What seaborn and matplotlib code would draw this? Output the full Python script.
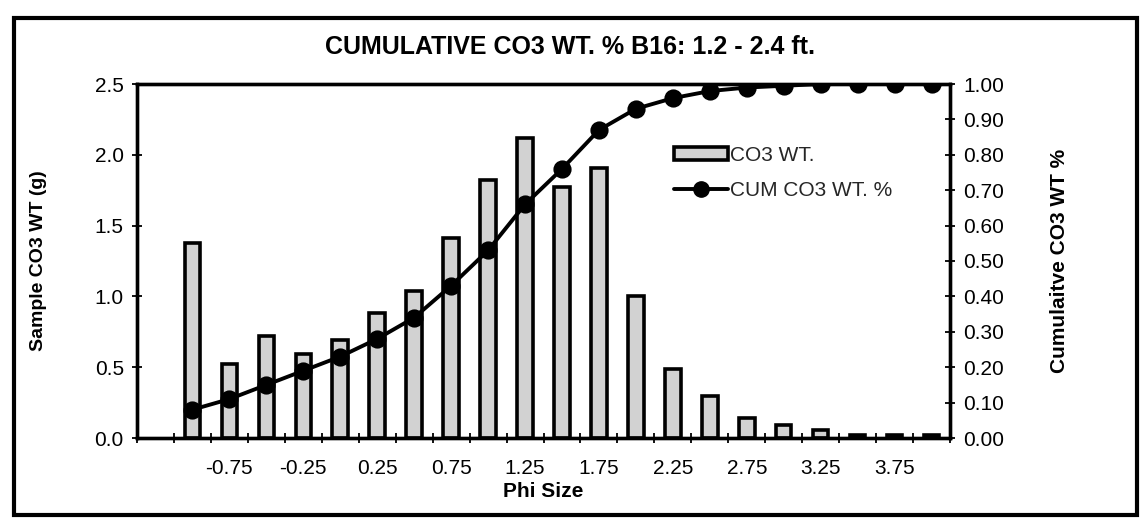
import matplotlib
matplotlib.use("Agg")
import matplotlib.pyplot as plt
import seaborn as sns
import pandas as pd
import numpy as np
from matplotlib.patches import Rectangle
from matplotlib.lines import Line2D
from matplotlib.ticker import FormatStrFormatter, MultipleLocator

# ---- data ----
categories = ["-1.25", "-1.00", "-0.75", "-0.50", "-0.25", "0.00", "0.25", "0.50",
              "0.75", "1.00", "1.25", "1.50", "1.75", "2.00", "2.25", "2.50",
              "2.75", "3.00", "3.25", "3.50", "3.75", "4.00"]
phi_sizes = ["-1.00", "-0.75", "-0.50", "-0.25", "0.00", "0.25", "0.50",
             "0.75", "1.00", "1.25", "1.50", "1.75", "2.00", "2.25", "2.50",
             "2.75", "3.00", "3.25", "3.50", "3.75", "4.00"]
co3_wt = [1.38, 0.52, 0.72, 0.59, 0.69, 0.88, 1.04, 1.41, 1.82, 2.12, 1.77,
          1.91, 1.00, 0.49, 0.30, 0.14, 0.09, 0.06, 0.02, 0.02, 0.02]
cum_co3 = [0.08, 0.11, 0.15, 0.19, 0.23, 0.28, 0.34, 0.43, 0.53, 0.66, 0.76,
           0.87, 0.93, 0.96, 0.98, 0.99, 0.995, 1.00, 1.00, 1.00, 1.00]
tick_labels = ["-0.75", "-0.25", "0.25", "0.75", "1.25", "1.75", "2.25",
               "2.75", "3.25", "3.75"]

df = pd.DataFrame({"phi": phi_sizes, "wt": co3_wt, "cum": cum_co3})

sns.set_theme(style="white")
plt.rcParams["font.family"] = ["Liberation Sans", "DejaVu Sans"]

W, H = 1144, 519
fig = plt.figure(figsize=(W / 100, H / 100), dpi=100)
L, R, T, B = 137, 950, 84, 438
ax = fig.add_axes([L / W, 1 - B / H, (R - L) / W, (B - T) / H])

sns.barplot(data=df, x="phi", y="wt", order=categories, ax=ax,
            color="#d2d2d2", saturation=1, edgecolor="black", linewidth=2.6,
            width=0.42, errorbar=None)

ax2 = ax.twinx()
sns.pointplot(data=df, x="phi", y="cum", order=categories, ax=ax2,
              color="black", markers="o", linestyles="-", errorbar=None,
              markersize=11, linewidth=2.8)

# x axis
ax.set_xlim(-0.5, len(categories) - 0.5)
label_pos = [categories.index(t) for t in tick_labels]
ax.set_xticks(label_pos)
ax.set_xticklabels(tick_labels)
ax.set_xticks(np.arange(-0.5, len(categories), 1.0), minor=True)
ax.tick_params(axis="x", which="major", length=0, pad=15, labelsize=15,
               colors="black")
ax.tick_params(axis="x", which="minor", length=7, width=1.3,
               direction="inout", bottom=True, color="black")
ax.set_xlabel("Phi Size", fontsize=15, fontweight="bold", color="black")
ax.xaxis.set_label_coords(0.5, -0.125)

# left y axis
ax.set_ylim(0, 2.5)
ax.yaxis.set_major_locator(MultipleLocator(0.5))
ax.yaxis.set_major_formatter(FormatStrFormatter("%.1f"))
ax.tick_params(axis="y", which="major", length=7, width=1.3, direction="inout",
               left=True, labelsize=15, colors="black", pad=6)
ax.set_ylabel("Sample CO3 WT (g)", fontsize=14, fontweight="bold",
              color="black")
ax.yaxis.set_label_coords(-0.111, 0.5)

# right y axis
ax2.set_ylim(0, 1.0)
ax2.yaxis.set_major_locator(MultipleLocator(0.1))
ax2.yaxis.set_major_formatter(FormatStrFormatter("%.2f"))
ax2.tick_params(axis="y", which="major", length=7, width=1.3,
                direction="inout", right=True, labelsize=15, colors="black",
                pad=6)
ax2.set_ylabel("Cumulaitve CO3 WT %", fontsize=15, fontweight="bold",
               color="black", rotation=90)
ax2.yaxis.set_label_coords(1.123, 0.5)

for a in (ax, ax2):
    for s in a.spines.values():
        s.set_visible(True)
        s.set_color("black")
        s.set_linewidth(2.4)
    a.grid(False)

# legend
handles = [Rectangle((0, 0), 1, 1, facecolor="#d2d2d2", edgecolor="black",
                     linewidth=2.6),
           Line2D([], [], color="black", marker="o", markersize=11,
                  linewidth=2.8)]
ax2.legend(handles, ["CO3 WT.", "CUM CO3 WT. %"], loc="upper left",
           bbox_to_anchor=(674 / W, 1 - 146 / H), bbox_transform=fig.transFigure,
           frameon=False, fontsize=15, handlelength=2.6, handleheight=0.55,
           handletextpad=0.1, labelspacing=0.75, borderpad=0, borderaxespad=0)

# title
fig.text(570 / W, 1 - 47 / H, "CUMULATIVE CO3 WT. % B16: 1.2 - 2.4 ft.",
         ha="center", va="center", fontsize=18, fontweight="bold",
         color="black")

# outer frame
fig.add_artist(Rectangle((14 / W, 1 - 515 / H), (1137 - 14) / W,
                         (515 - 18) / H, transform=fig.transFigure,
                         fill=False, linewidth=3.0, edgecolor="black"))

fig.savefig("out.png", dpi=100, facecolor="white")
